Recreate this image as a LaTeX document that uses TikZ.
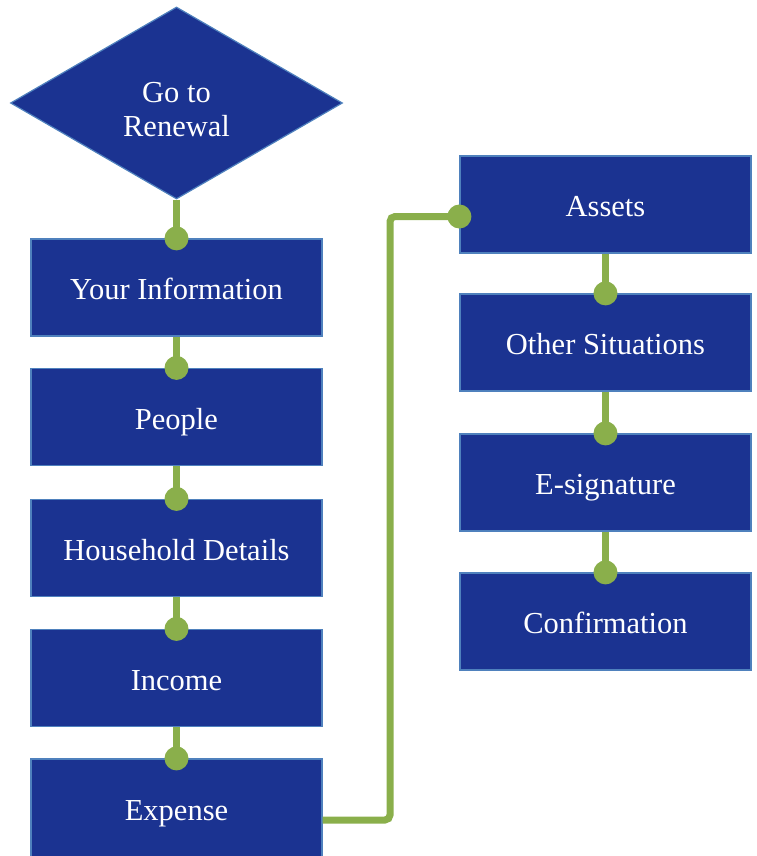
\documentclass[tikz,border=0pt]{standalone}
\usepackage{fontspec}
\setmainfont{Liberation Serif}
\usetikzlibrary{shapes.geometric,calc}
\definecolor{boxblue}{RGB}{27,51,145}
\definecolor{edgeblue}{RGB}{79,129,189}
\definecolor{linkgreen}{RGB}{138,175,75}
\begin{document}
\begin{tikzpicture}[x=1pt,y=-1pt,
  stepbox/.style={rectangle, draw=edgeblue, line width=1.2pt, fill=boxblue,
    minimum width=291pt, minimum height=97pt, inner sep=0pt, text=white,
    text height=25pt, text depth=1pt,
    font=\fontsize{30.5}{34}\selectfont},
  decision/.style={diamond, draw=edgeblue, line width=1.2pt, fill=boxblue,
    minimum width=332pt, minimum height=192pt, inner sep=0pt},
  decisiontext/.style={text=white, align=center, inner sep=0pt,
    font=\fontsize{30.5}{34}\selectfont},
  link/.style={draw=linkgreen, line width=7pt},
  joint/.style={fill=linkgreen}]
\useasboundingbox (0,0) rectangle (757,856);
\clip (0,0) rectangle (757,856);

% start decision
\node[decision] (renewal) at (176.5,103) {};
\node[decisiontext] (renewaltext) at ([yshift=-7pt]renewal.center) {Go to\\Renewal};

% left column of steps
\node[stepbox] (info)      at (176.5,287.5) {Your Information};
\node[stepbox] (people)    at (176.5,417)   {People};
\node[stepbox] (household) at (176.5,548)   {Household Details};
\node[stepbox] (income)    at (176.5,678)   {Income};
\node[stepbox, minimum height=98pt] (expense) at (176.5,808) {Expense};

% right column of steps
\node[stepbox] (assets)       at (605.5,204.5) {Assets};
\node[stepbox] (other)        at (605.5,342.5) {Other Situations};
\node[stepbox] (esignature)   at (605.5,482.5) {E-signature};
\node[stepbox] (confirmation) at (605.5,621.5) {Confirmation};

% connectors ending in a round joint
\foreach \a/\b in {renewal/info, info/people, people/household,
                   household/income, income/expense,
                   assets/other, other/esignature, esignature/confirmation}{
  \draw[link] (\a.south) -- (\b.north);
  \fill[joint] (\b.north) circle (12pt);
}

% elbow from Expense up to Assets
\coordinate (expenseout) at ([yshift=-12pt]expense.east);
\coordinate (assetsin) at ([yshift=-12pt]assets.west);
\coordinate (bend) at (390,0);
\draw[link, rounded corners=5pt] (expenseout) -| (bend |- assetsin) -- (assetsin);
\fill[joint] (assetsin) circle (12pt);
\end{tikzpicture}
\end{document}
